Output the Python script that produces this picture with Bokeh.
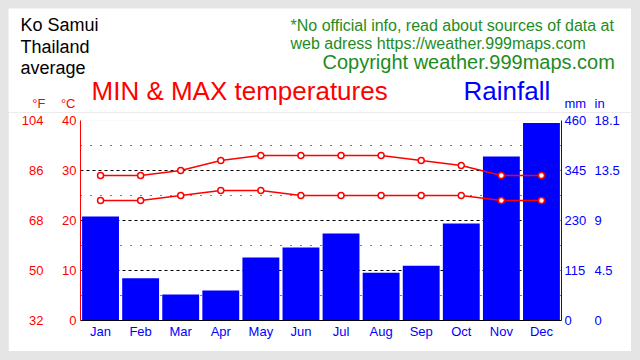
from bokeh.plotting import figure
from bokeh.layouts import column
from bokeh.models import (Range1d, FactorRange, LinearAxis, FixedTicker, Label,
                          ColumnDataSource)
from bokeh.embed import file_html
from bokeh.resources import INLINE

months = ["Jan", "Feb", "Mar", "Apr", "May", "Jun", "Jul", "Aug", "Sep", "Oct", "Nov", "Dec"]
tmax_c = [29, 29, 30, 32, 33, 33, 33, 33, 32, 31, 29, 29]
tmin_c = [24, 24, 25, 26, 26, 25, 25, 25, 25, 25, 24, 24]
rain_mm = [239, 97, 60, 69, 145, 168, 200, 110, 126, 223, 377, 454]

c_ticks = [0, 10, 20, 30, 40]
c_minor = [5, 15, 25, 35]
f_labels = ["32", "50", "68", "86", "104"]
mm_ticks = [0, 115, 230, 345, 460]
in_labels = ["0", "4.5", "9", "13.5", "18.1"]

FONT = "Liberation Sans"
RED = "#ff0000"
BLUE = "#0000ff"
GREEN = "#1e8c1e"
W = 623

# ---------------- header (texts) ----------------
head = figure(width=W, height=104, x_range=Range1d(0, W), y_range=Range1d(0, 104),
              output_backend="svg", toolbar_location=None,
              x_axis_location=None, y_axis_location=None,
              min_border_left=0, min_border_right=0, min_border_top=0, min_border_bottom=0)
head.frame_align = False
head.outline_line_color = None
head.xgrid.visible = False
head.ygrid.visible = False
head.background_fill_color = "white"
head.border_fill_color = "white"

def lab(text, x, y, size, color, align="left"):
    px = int(size.replace("px", ""))
    head.add_layout(Label(x=x, y=y - 0.33 * px, x_units="canvas", y_units="canvas",
                          text=text, text_font=FONT, text_font_size=size,
                          text_color=color, text_align=align,
                          text_baseline="alphabetic"))

lab("Ko Samui", 12, 22, "18px", "black")
lab("Thailand", 12, 44, "18px", "black")
lab("average", 12, 65, "18px", "black")
lab("*No official info, read about sources of data at", 282, 22, "16px", GREEN)
lab("web adress https://weather.999maps.com", 282, 40, "16px", GREEN)
lab("Copyright weather.999maps.com", 314, 60, "20px", GREEN)
lab("MIN & MAX temperatures", 83, 91, "26px", RED)
lab("Rainfall", 455, 91, "26px", BLUE)
lab("°F", 37, 99, "13px", RED, "right")
lab("°C", 67, 99, "13px", RED, "right")
lab("mm", 556, 99, "13px", BLUE)
lab("in", 586, 99, "13px", BLUE)

# ---------------- chart ----------------
src = ColumnDataSource(dict(m=months, tmax=tmax_c, tmin=tmin_c, rain=rain_mm))

p = figure(width=W, height=239, x_range=FactorRange(factors=months, range_padding=0),
           y_range=Range1d(c_ticks[0], c_ticks[-1]), output_backend="svg",
           toolbar_location=None, min_border_left=72, min_border_right=70,
           min_border_top=8, min_border_bottom=31)
p.frame_align = False
p.extra_y_ranges = {"mm": Range1d(mm_ticks[0], mm_ticks[-1])}
p.outline_line_color = None
p.background_fill_color = "white"
p.border_fill_color = "white"

p.xgrid.grid_line_color = None
p.ygrid.ticker = FixedTicker(ticks=c_ticks[1:], minor_ticks=c_minor)
p.ygrid.grid_line_color = "black"
p.ygrid.grid_line_dash = "3 3"
p.ygrid.minor_grid_line_color = "black"
p.ygrid.minor_grid_line_dash = "1 9"

def style_axis(ax, color, line_color, standoff):
    ax.major_tick_line_color = None
    ax.minor_tick_line_color = None
    ax.major_tick_out = 0
    ax.major_tick_in = 0
    ax.axis_line_color = line_color
    ax.major_label_text_color = color
    ax.major_label_text_font = FONT
    ax.major_label_text_font_size = "13px"
    ax.major_label_standoff = standoff

cax = p.yaxis[0]
cax.ticker = FixedTicker(ticks=c_ticks)
style_axis(cax, RED, RED, 4)

fax = LinearAxis(ticker=FixedTicker(ticks=c_ticks),
                 major_label_overrides={t: l for t, l in zip(c_ticks, f_labels)})
style_axis(fax, RED, None, 16)
p.add_layout(fax, "left")

mmax = LinearAxis(y_range_name="mm", ticker=FixedTicker(ticks=mm_ticks))
style_axis(mmax, BLUE, BLUE, 3)
p.add_layout(mmax, "right")

inax = LinearAxis(y_range_name="mm", ticker=FixedTicker(ticks=mm_ticks),
                  major_label_overrides={t: l for t, l in zip(mm_ticks, in_labels)})
style_axis(inax, BLUE, None, 5)
p.add_layout(inax, "right")

xax = p.xaxis[0]
style_axis(xax, BLUE, "black", 3)

p.vbar(x="m", top="rain", width=0.92, source=src, y_range_name="mm",
       fill_color=BLUE, line_color=None)

for col in ("tmax", "tmin"):
    p.line(x="m", y=col, source=src, line_color=RED, line_width=1.5)
    p.scatter(x="m", y=col, source=src, marker="circle", size=6,
              fill_color="white", line_color=RED, line_width=1.5)

layout = column(head, p, spacing=0)
html = file_html(layout, INLINE)
html = html.replace("</head>", "<style>html,body{height:auto;} body{margin:8px;background:#e5e5e5;}</style></head>", 1)
open("out.html", "w").write(html)
